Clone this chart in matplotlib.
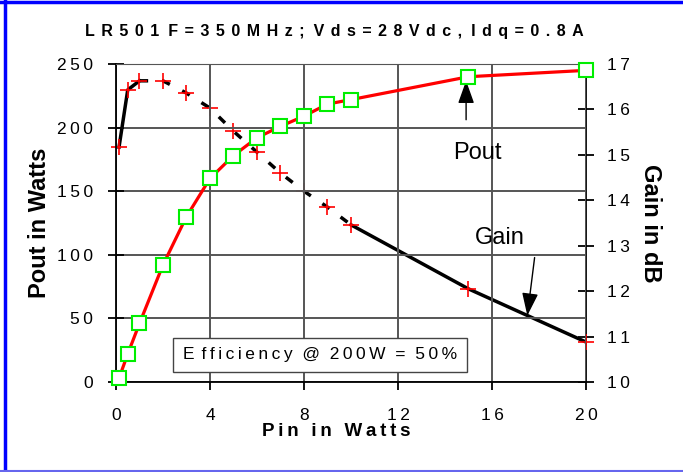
import matplotlib.pyplot as plt
from matplotlib.lines import Line2D

plt.rcParams['font.family'] = ['Liberation Sans', 'DejaVu Sans']

pin = [0.13, 0.5, 1, 2, 3, 4, 5, 6, 7, 8, 9, 10, 15, 20]
pout = [3, 22, 46, 92, 130, 160, 178, 192, 201, 209, 218.5, 222, 240, 245]
gain = [15.17, 16.43, 16.63, 16.63, 16.36, 16.03, 15.52, 15.06, 14.6, 14.2, 13.85, 13.46, 12.05, 10.88]

pout_ticks = [0, 50, 100, 150, 200, 250]
gain_ticks = [10, 11, 12, 13, 14, 15, 16, 17]
pin_ticks = [0, 4, 8, 12, 16, 20]

TS = '\u2009'


def spaced(s, gap=TS, wgap=' '):
    # the original chart uses wide letter spacing
    return wgap.join(gap.join(list(w)) for w in s.split(' '))


fig = plt.figure(figsize=(6.83, 4.72), dpi=100)
ax = fig.add_axes([0.1698, 0.1907, 0.6881, 0.6737])
ax2 = ax.twinx()

ax.set_xlim(0, 20)
ax.set_ylim(0, 250)
ax2.set_ylim(10, 17)

ax.set_xticks(pin_ticks)
ax.set_xticklabels([spaced(str(t)) for t in pin_ticks])
ax.set_yticks(pout_ticks)
ax.set_yticklabels([spaced(str(t)) for t in pout_ticks])
ax2.set_yticks(gain_ticks)
ax2.set_yticklabels([spaced(str(t)) for t in gain_ticks])

ax.grid(True, color='#555555', lw=1.4)
ax.set_axisbelow(True)
for s in ['left', 'bottom']:
    ax.spines[s].set_linewidth(1.3)
ax.spines['top'].set_color('#555555')
ax2.spines['right'].set_linewidth(1.3)
ax2.spines['top'].set_visible(False)
ax2.spines['left'].set_visible(False)
ax2.spines['bottom'].set_visible(False)
ax.spines['right'].set_visible(False)

ax.tick_params(axis='y', direction='inout', length=11.5, width=1.3, labelsize=12.5, pad=10.8)
ax.tick_params(axis='x', direction='out', length=5.8, width=1.3, labelsize=12.5, pad=13)
ax2.tick_params(axis='y', direction='inout', length=11.5, width=1.3, labelsize=12.5, pad=9.4)

# gain curve: solid start, dashed middle, solid tail
ax2.plot(pin[:3], gain[:3], color='black', lw=2.5, zorder=3)
ax2.plot(pin[2:12], gain[2:12], color='black', lw=2.5, ls=(0, (2.5, 4)), zorder=3)
ax2.plot(pin[11:], gain[11:], color='black', lw=2.5, zorder=3)
ax2.plot(pin, gain, ls='none', marker='+', color='red', ms=11, mew=1.2, zorder=5, clip_on=False)

# pout curve on top
ax.set_zorder(ax2.get_zorder() + 1)
ax.patch.set_visible(False)
ax.plot(pin, pout, color='red', lw=2.3, zorder=4)
ax.plot(pin, pout, ls='none', marker='s', mfc='white', mec='#00ee00', ms=10, mew=1.5, zorder=5, clip_on=False)

ax.annotate('', xy=(14.9, 239), xytext=(14.9, 204),
            arrowprops=dict(arrowstyle='-|>,head_width=0.5,head_length=1.4', color='black', lw=1))
ax.text(15.4, 180, 'Pout', fontsize=17, ha='center', va='center')
ax.annotate('', xy=(17.49, 50), xytext=(17.83, 100),
            arrowprops=dict(arrowstyle='-|>,head_width=0.5,head_length=1.4', color='black', lw=1))
ax.text(16.34, 113, 'Gain', fontsize=17, ha='center', va='center')

ax.text(0.434, 0.085, 'E' + TS * 2 + spaced('fficiency') + '  @  ' + spaced('200W') + '  =  ' + spaced('50%'),
        transform=ax.transAxes, fontsize=12.5, ha='center', va='center',
        bbox=dict(boxstyle='square,pad=0.55', fc='white', ec='#444444', lw=1))

ax.set_ylabel('Pout in Watts', fontsize=17, fontweight='bold')
ax.yaxis.set_label_coords(-0.139, 0.5)
ax2.set_ylabel('Gain in dB', fontsize=17, fontweight='bold', rotation=270, labelpad=23)
ax.set_xlabel(spaced('Pin in Watts', TS, ' ' + TS * 2), fontsize=13.5, fontweight='bold')
ax.xaxis.set_label_coords(0.468, -0.13)

fig.text(0.49, 0.934, spaced('LR501 F=350MHz; Vds=28Vdc, Idq=0.8A', TS * 2, '  '),
         fontsize=11.5, fontweight='bold', ha='center', va='center')

# blue frame around the chart
fig.add_artist(Line2D([0.008, 0.008], [0, 1], transform=fig.transFigure, color='blue', lw=2.5))
fig.add_artist(Line2D([0, 1], [0.996, 0.996], transform=fig.transFigure, color='blue', lw=2.5))
fig.add_artist(Line2D([0, 1], [0.002, 0.002], transform=fig.transFigure, color='#6666ee', lw=1.5))

fig.savefig('out.png', dpi=100)
